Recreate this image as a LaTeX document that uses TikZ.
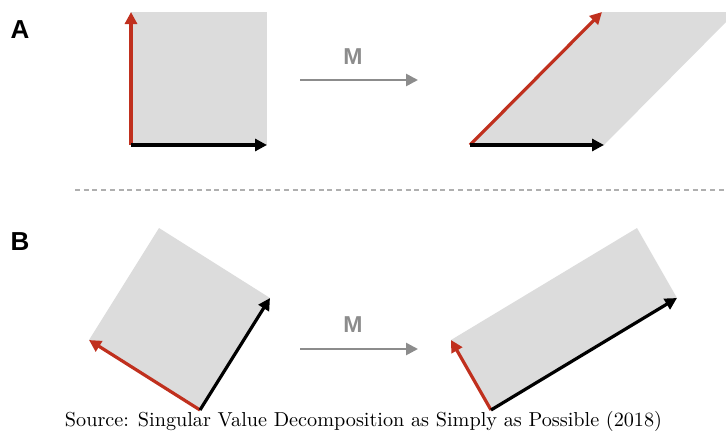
\documentclass[tikz,border=0pt]{standalone}
\usepackage{fontspec}
\usepackage{graphicx}
\newfontfamily\labelfont{Liberation Sans}
\usetikzlibrary{arrows.meta}
\definecolor{vred}{RGB}{192,48,30}
\definecolor{shade}{RGB}{220,220,220}
\definecolor{mgrey}{RGB}{140,140,140}
\definecolor{dotgrey}{RGB}{175,175,175}
\tikzset{
  vec/.style={line width=3.2pt, -{Triangle[length=12pt,width=12pt]}},
  redvec/.style={vec, draw=vred},
  blackvec/.style={vec, draw=black},
  marrow/.style={line width=2.6pt, draw=mgrey, -{Triangle[length=12pt,width=12pt]}},
  mlabel/.style={font=\labelfont\bfseries\fontsize{23}{25}\selectfont, text=mgrey, inner sep=0pt},
  panel/.style={font=\labelfont\bfseries\fontsize{26}{28}\selectfont, text=black, inner sep=0pt},
  face/.style={fill=shade, draw=none},
  sep/.style={draw=dotgrey, line width=2pt, dash pattern=on 5pt off 3.7pt}
}
\begin{document}
\begin{tikzpicture}[x=1pt, y=-1pt]
\useasboundingbox (0,0) rectangle (726,434);
\clip (0,0) rectangle (726,434);
% panel labels
\node[panel] (labA) at (20,30) {A};
\node[panel] (labB) at (20,242) {B};
% --- A left: square
\coordinate (aO) at (131,145);
\coordinate (aU) at (131,12);
\coordinate (aR) at (267,145);
\fill[face] (aO) -- (aR) -- (267,12) -- (aU) -- cycle;
\draw[redvec] (aO) -- (aU);
\draw[blackvec] (aO) -- (aR);
% M arrow A
\coordinate (m1s) at (300,80);
\coordinate (m1e) at (418,80);
\draw[marrow] (m1s) -- (m1e);
\node[mlabel] (m1) at (353,57) {M};
% --- A right: parallelogram
\coordinate (bO) at (470,145);
\coordinate (bR) at (604,145);
\coordinate (bU) at (602,12);
\fill[face] (bO) -- (bR) -- (736,12) -- (bU) -- cycle;
\draw[redvec] (bO) -- (bU);
\draw[blackvec] (bO) -- (bR);
% separator
\coordinate (s1) at (75,190);
\coordinate (s2) at (726,190);
\draw[sep] (s1) -- (s2);
% --- B left: rotated square
\coordinate (cO) at (200,410);
\coordinate (cL) at (89,340);
\coordinate (cR) at (270,298);
\fill[face] (cO) -- (cR) -- (159,228) -- (cL) -- cycle;
\draw[redvec] (cO) -- (cL);
\draw[blackvec] (cO) -- (cR);
% M arrow B
\coordinate (m2s) at (300,349);
\coordinate (m2e) at (418,349);
\draw[marrow] (m2s) -- (m2e);
\node[mlabel] (m2) at (353,325) {M};
% --- B right: rectangle
\coordinate (dO) at (491,410);
\coordinate (dL) at (451,340);
\coordinate (dR) at (677,298);
\fill[face] (dO) -- (dR) -- (637,228) -- (dL) -- cycle;
\draw[redvec] (dO) -- (dL);
\draw[blackvec] (dO) -- (dR);
% caption
\node[inner sep=0pt] (cap) at (363.5,421) {\resizebox{597pt}{!}{\fontsize{10}{12}\selectfont Source: Singular Value Decomposition as Simply as Possible (2018)}};
\end{tikzpicture}
\end{document}
